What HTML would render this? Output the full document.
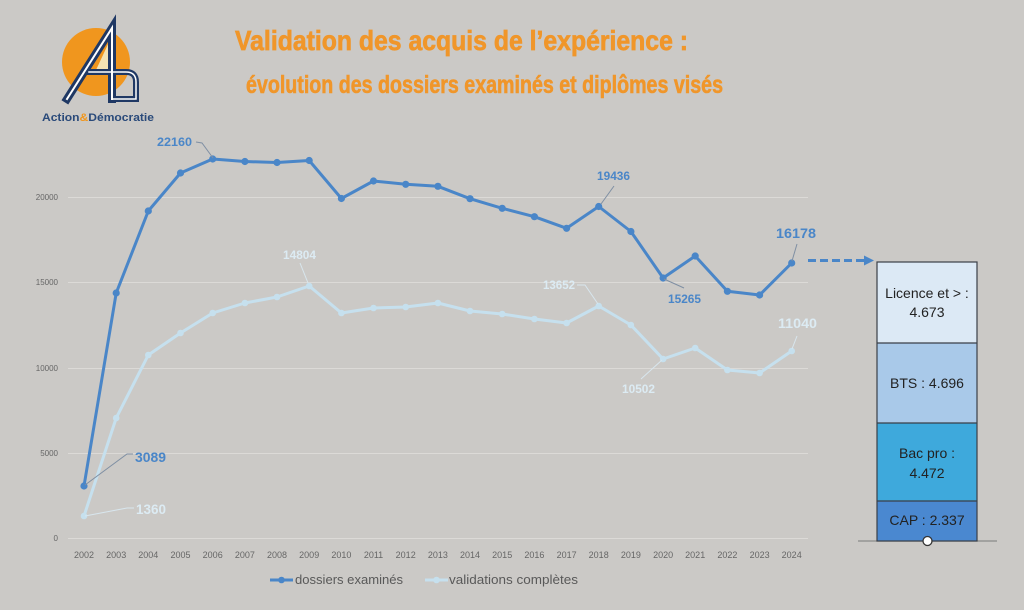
<!DOCTYPE html>
<html><head><meta charset="utf-8"><style>
html,body{margin:0;padding:0;background:#cbc9c6;}
svg{display:block;}
</style></head><body>
<svg width="1024" height="610" viewBox="0 0 1024 610" xmlns="http://www.w3.org/2000/svg" font-family="'Liberation Sans', sans-serif">
<rect x="0" y="0" width="1024" height="610" fill="#cbc9c6"/>

<!-- Logo -->
<circle cx="96" cy="62" r="34" fill="#f0961e"/>
<polygon points="96,70 110,40 110,70" fill="#f3e3b4"/>
<g fill="none" stroke-linejoin="miter" stroke-linecap="square">
  <path d="M67,99 L112,28 L112,99" stroke="#1f3864" stroke-width="8"/>
  <path d="M89,72 L112,72" stroke="#1f3864" stroke-width="6"/>
  <path d="M112,72 H126 Q136,72 136,82 V99 H112" stroke="#1f3864" stroke-width="6"/>
  <path d="M67,99 L112,28 L112,99" stroke="#ffffff" stroke-width="2"/>
  <path d="M89,72 L112,72" stroke="#ffffff" stroke-width="1.5"/>
  <path d="M112,72 H126 Q136,72 136,82 V99 H112" stroke="#ffffff" stroke-width="1.5"/>
</g>
<text x="42" y="121" font-size="11" font-weight="bold" fill="#2a4a7a" textLength="112" lengthAdjust="spacingAndGlyphs">Action<tspan fill="#f0961e">&amp;</tspan>Démocratie</text>

<!-- Title -->
<text x="235" y="50" font-size="28" font-weight="bold" fill="#f0962a" stroke="#f0962a" stroke-width="0.7" textLength="453" lengthAdjust="spacingAndGlyphs">Validation des acquis de l’expérience :</text>
<text x="246" y="93" font-size="25" font-weight="bold" fill="#f0962a" stroke="#f0962a" stroke-width="0.6" textLength="477" lengthAdjust="spacingAndGlyphs">évolution des dossiers examinés et diplômes visés</text>

<!-- Gridlines -->
<g stroke="#dcdad7" stroke-width="1">
  <line x1="68" y1="538.5" x2="808" y2="538.5"/>
  <line x1="68" y1="453.5" x2="808" y2="453.5"/>
  <line x1="68" y1="368.5" x2="808" y2="368.5"/>
  <line x1="68" y1="282.5" x2="808" y2="282.5"/>
  <line x1="68" y1="197.5" x2="808" y2="197.5"/>
</g>
<g font-size="8" fill="#666" text-anchor="end">
  <text x="58" y="541">0</text>
  <text x="58" y="456">5000</text>
  <text x="58" y="371">10000</text>
  <text x="58" y="285">15000</text>
  <text x="58" y="200">20000</text>
</g>

<!-- X labels -->
<g font-size="9" fill="#666" text-anchor="middle">
  <text x="84" y="558">2002</text><text x="116.2" y="558">2003</text><text x="148.3" y="558">2004</text>
  <text x="180.5" y="558">2005</text><text x="212.7" y="558">2006</text><text x="244.9" y="558">2007</text>
  <text x="277" y="558">2008</text><text x="309.2" y="558">2009</text><text x="341.4" y="558">2010</text>
  <text x="373.5" y="558">2011</text><text x="405.7" y="558">2012</text><text x="437.9" y="558">2013</text>
  <text x="470" y="558">2014</text><text x="502.2" y="558">2015</text><text x="534.4" y="558">2016</text>
  <text x="566.6" y="558">2017</text><text x="598.7" y="558">2018</text><text x="630.9" y="558">2019</text>
  <text x="663.1" y="558">2020</text><text x="695.2" y="558">2021</text><text x="727.4" y="558">2022</text>
  <text x="759.6" y="558">2023</text><text x="791.7" y="558">2024</text>
</g>

<!-- Validations series -->
<polyline fill="none" stroke="#c6e0ee" stroke-width="3" stroke-linejoin="round"
 points="84,516 116.2,418 148.3,355 180.5,333 212.7,313 244.9,303 277,297 309.2,286 341.4,313 373.5,308 405.7,307 437.9,303 470,311 502.2,314 534.4,319 566.6,323 598.7,306 630.9,325 663.1,359 695.2,348 727.4,370 759.6,373 791.7,351"/>
<g fill="#c6e0ee">
  <circle cx="84" cy="516" r="3.3"/><circle cx="116.2" cy="418" r="3.3"/><circle cx="148.3" cy="355" r="3.3"/>
  <circle cx="180.5" cy="333" r="3.3"/><circle cx="212.7" cy="313" r="3.3"/><circle cx="244.9" cy="303" r="3.3"/>
  <circle cx="277" cy="297" r="3.3"/><circle cx="309.2" cy="286" r="3.3"/><circle cx="341.4" cy="313" r="3.3"/>
  <circle cx="373.5" cy="308" r="3.3"/><circle cx="405.7" cy="307" r="3.3"/><circle cx="437.9" cy="303" r="3.3"/>
  <circle cx="470" cy="311" r="3.3"/><circle cx="502.2" cy="314" r="3.3"/><circle cx="534.4" cy="319" r="3.3"/>
  <circle cx="566.6" cy="323" r="3.3"/><circle cx="598.7" cy="306" r="3.3"/><circle cx="630.9" cy="325" r="3.3"/>
  <circle cx="663.1" cy="359" r="3.3"/><circle cx="695.2" cy="348" r="3.3"/><circle cx="727.4" cy="370" r="3.3"/>
  <circle cx="759.6" cy="373" r="3.3"/><circle cx="791.7" cy="351" r="3.3"/>
</g>

<!-- Dossiers series -->
<polyline fill="none" stroke="#4a86c8" stroke-width="3" stroke-linejoin="round"
 points="84,486 116.2,293 148.3,211 180.5,173 212.7,159 244.9,161.5 277,162.5 309.2,160.5 341.4,198.5 373.5,181 405.7,184.3 437.9,186.3 470,198.7 502.2,208.3 534.4,216.7 566.6,228.3 598.7,206.5 630.9,231.5 663.1,278 695.2,256 727.4,291.3 759.6,295 791.7,263"/>
<g fill="#4a86c8">
  <circle cx="84" cy="486" r="3.6"/><circle cx="116.2" cy="293" r="3.6"/><circle cx="148.3" cy="211" r="3.6"/>
  <circle cx="180.5" cy="173" r="3.6"/><circle cx="212.7" cy="159" r="3.6"/><circle cx="244.9" cy="161.5" r="3.6"/>
  <circle cx="277" cy="162.5" r="3.6"/><circle cx="309.2" cy="160.5" r="3.6"/><circle cx="341.4" cy="198.5" r="3.6"/>
  <circle cx="373.5" cy="181" r="3.6"/><circle cx="405.7" cy="184.3" r="3.6"/><circle cx="437.9" cy="186.3" r="3.6"/>
  <circle cx="470" cy="198.7" r="3.6"/><circle cx="502.2" cy="208.3" r="3.6"/><circle cx="534.4" cy="216.7" r="3.6"/>
  <circle cx="566.6" cy="228.3" r="3.6"/><circle cx="598.7" cy="206.5" r="3.6"/><circle cx="630.9" cy="231.5" r="3.6"/>
  <circle cx="663.1" cy="278" r="3.6"/><circle cx="695.2" cy="256" r="3.6"/><circle cx="727.4" cy="291.3" r="3.6"/>
  <circle cx="759.6" cy="295" r="3.6"/><circle cx="791.7" cy="263" r="3.6"/>
</g>

<!-- Leader lines -->
<g fill="none" stroke-width="1">
  <polyline points="196,142 202,143 213,158" stroke="#7f8fa3"/>
  <polyline points="85,485 127,454 133,454" stroke="#7f8fa3"/>
  <polyline points="85,516 127,508 134,508" stroke="#d8e6ee"/>
  <polyline points="300,263 308,283" stroke="#d8e6ee"/>
  <polyline points="614,186 601,204" stroke="#7f8fa3"/>
  <polyline points="664,279 684,288" stroke="#7f8fa3"/>
  <polyline points="797,244 792,261" stroke="#7f8fa3"/>
  <polyline points="577,285 585,285 598,304" stroke="#d8e6ee"/>
  <polyline points="641,379 662,360" stroke="#d8e6ee"/>
  <polyline points="797,336 792,349" stroke="#d8e6ee"/>
</g>

<!-- Data labels -->
<g font-weight="bold" fill="#4a86c8">
  <text x="157" y="146" font-size="12" textLength="35" lengthAdjust="spacingAndGlyphs">22160</text>
  <text x="135" y="462" font-size="14" textLength="31" lengthAdjust="spacingAndGlyphs">3089</text>
  <text x="597" y="180" font-size="12" textLength="33" lengthAdjust="spacingAndGlyphs">19436</text>
  <text x="668" y="303" font-size="12" textLength="33" lengthAdjust="spacingAndGlyphs">15265</text>
  <text x="776" y="238" font-size="14" textLength="40" lengthAdjust="spacingAndGlyphs">16178</text>
</g>
<g font-weight="bold" fill="#dcebf3">
  <text x="136" y="514" font-size="14" textLength="30" lengthAdjust="spacingAndGlyphs">1360</text>
  <text x="283" y="259" font-size="12" textLength="33" lengthAdjust="spacingAndGlyphs">14804</text>
  <text x="543" y="289" font-size="12" textLength="32" lengthAdjust="spacingAndGlyphs">13652</text>
  <text x="622" y="393" font-size="12" textLength="33" lengthAdjust="spacingAndGlyphs">10502</text>
  <text x="778" y="328" font-size="14" textLength="39" lengthAdjust="spacingAndGlyphs">11040</text>
</g>

<!-- Legend -->
<line x1="270" y1="580" x2="293" y2="580" stroke="#4a86c8" stroke-width="3"/>
<circle cx="281.5" cy="580" r="3.3" fill="#4a86c8"/>
<text x="295" y="584" font-size="13" fill="#595959" textLength="108" lengthAdjust="spacingAndGlyphs">dossiers examinés</text>
<line x1="425" y1="580" x2="448" y2="580" stroke="#c6e0ee" stroke-width="3"/>
<circle cx="436.5" cy="580" r="3.3" fill="#c6e0ee"/>
<text x="449" y="584" font-size="13" fill="#595959" textLength="129" lengthAdjust="spacingAndGlyphs">validations complètes</text>

<!-- Dashed arrow -->
<line x1="808" y1="260.5" x2="864" y2="260.5" stroke="#4a86c8" stroke-width="3" stroke-dasharray="8,4"/>
<polygon points="864,255.5 874,260.5 864,265.5" fill="#4a86c8"/>

<!-- Stacked bar -->
<line x1="858" y1="541" x2="997" y2="541" stroke="#8a8a8a" stroke-width="1.2"/>
<rect x="877" y="262" width="100" height="81" fill="#dce9f5"/>
<rect x="877" y="343" width="100" height="80" fill="#a9c9e9"/>
<rect x="877" y="423" width="100" height="78" fill="#3ea9dc"/>
<rect x="877" y="501" width="100" height="40" fill="#4a88d0"/>
<g stroke="#3a3f47" stroke-width="1.2" fill="none">
  <rect x="877" y="262" width="100" height="279"/>
  <line x1="877" y1="343" x2="977" y2="343"/>
  <line x1="877" y1="423" x2="977" y2="423"/>
  <line x1="877" y1="501" x2="977" y2="501"/>
</g>
<g font-size="14" fill="#222" text-anchor="middle">
  <text x="927" y="298">Licence et &gt; :</text>
  <text x="927" y="317">4.673</text>
  <text x="927" y="388">BTS : 4.696</text>
  <text x="927" y="458">Bac pro :</text>
  <text x="927" y="478">4.472</text>
  <text x="927" y="525">CAP : 2.337</text>
</g>
<circle cx="927.5" cy="541" r="4.5" fill="#ffffff" stroke="#333" stroke-width="1.3"/>
</svg>
</body></html>
